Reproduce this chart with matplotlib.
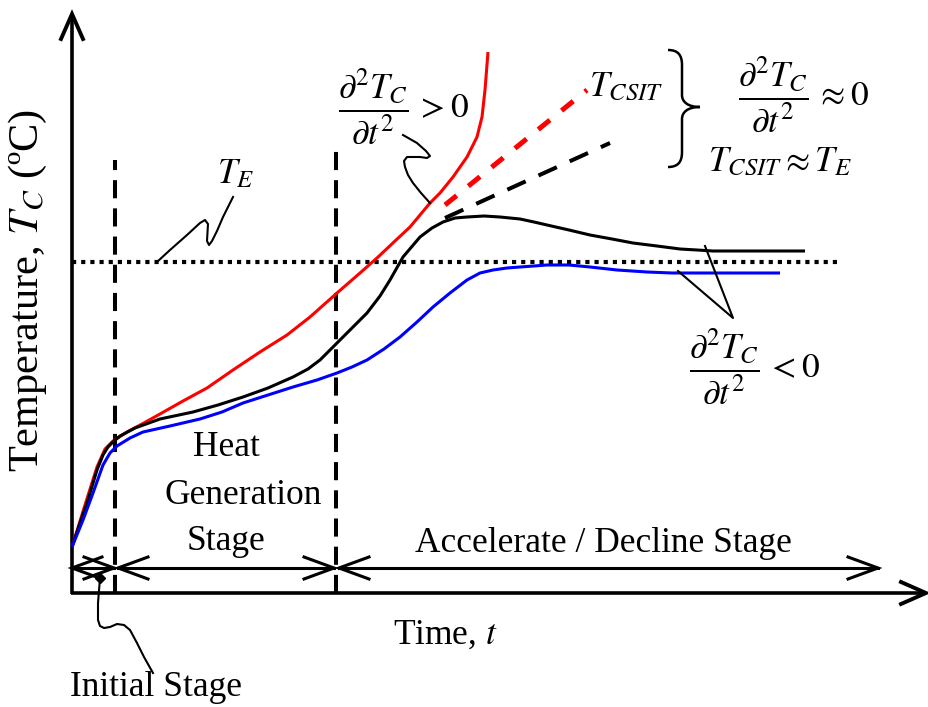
import numpy as np
import matplotlib
matplotlib.use("Agg")
import matplotlib.pyplot as plt
from matplotlib.path import Path
from matplotlib.patches import PathPatch

plt.rcParams['font.family'] = ['Liberation Serif', 'DejaVu Serif']
plt.rcParams['mathtext.fontset'] = 'stix'

# ---------------- CURVES (time, core temperature) ----------------
red_t = [0, 13, 25, 33, 41, 55, 70, 88, 111, 135, 161, 188, 215, 238, 265,
         288, 305, 323, 338, 358, 368, 381, 395, 405, 410, 413, 416]
red_T = [46, 88, 126, 144, 152, 161, 169, 179, 192, 205, 223, 241, 258, 276,
         300, 320, 335, 352, 366, 390, 400, 416, 436, 456, 476, 503, 541]

black_t = [0, 8, 15, 25, 31, 36, 42, 48, 63, 88, 121, 146, 171, 196, 221, 236,
           248, 265, 280, 295, 308, 318, 331, 348, 360, 371, 383, 395, 412,
           428, 448, 462, 475, 497, 518, 540, 561, 585, 608, 625, 641, 733]
black_T = [46, 70, 90, 123, 138, 146, 152, 157, 165, 174, 181, 188, 196, 205,
           216, 224, 233, 250, 265, 280, 297, 313, 336, 356, 365, 371, 375,
           376, 377, 376, 374, 371, 368, 363, 358, 354, 350, 347, 344, 343,
           342, 342]

blue_t = [0, 11, 21, 31, 38, 45, 58, 71, 98, 128, 150, 171, 196, 221, 245,
          265, 280, 295, 312, 328, 345, 361, 378, 395, 408, 421, 435, 448,
          462, 475, 497, 518, 545, 575, 600, 628, 708]
blue_T = [46, 73, 100, 128, 140, 147, 155, 161, 167, 174, 181, 190, 198, 206,
          213, 220, 226, 233, 244, 256, 271, 286, 300, 313, 320, 323, 325,
          326, 327, 328, 328, 326, 323, 321, 320, 320, 320]

# linear extensions of the black and red curves
csit_t = [373, 515]
csit_T = [388, 503]
ext_t = [373, 538]
ext_T = [375, 450]

T_E = 331
t_E_end = 765

# stage boundaries on the time axis
t_initial_end = 43
t_heat_end = 264
t_accel_end = 806

# ---------------- FIGURE ----------------
fig = plt.figure(figsize=(9.29, 7.07), dpi=100)
ax = fig.add_axes([0, 0, 1, 1])
ax.set_xlim(-72, 857)
ax.set_ylim(-114, 593)
ax.axis('off')

curve = dict(lw=2.2, solid_joinstyle='round', solid_capstyle='butt')


def vhead(tip, frm, length=30, half=11, lw=2.2):
    tip = np.asarray(tip, float)
    d = tip - np.asarray(frm, float)
    d /= np.hypot(*d)
    n = np.array([-d[1], d[0]])
    base = tip - length * d
    ax.plot([base[0] + half * n[0], tip[0], base[0] - half * n[0]],
            [base[1] + half * n[1], tip[1], base[1] - half * n[1]],
            color='black', lw=lw, solid_joinstyle='miter')


def double_arrow(x0, x1, y):
    ax.plot([x0, x1], [y, y], color='black', lw=2.2)
    vhead((x0, y), (x1, y))
    vhead((x1, y), (x0, y))


# axes with arrowheads
ax.plot([-1.2, 854], [0, 0], color='black', lw=2.6, solid_capstyle='butt')
ax.plot([0, 0], [-1.2, 579], color='black', lw=2.6, solid_capstyle='butt')
vhead((854, 0), (0, 0), length=25, half=11, lw=2.8)
vhead((0, 579), (0, 0), length=25, half=11, lw=2.8)

# stage dividers
ax.plot([t_initial_end, t_initial_end], [0, 433], color='black', lw=2.9,
        linestyle=(0, (4.5, 2.5)))
ax.plot([t_heat_end, t_heat_end], [0, 446], color='black', lw=2.9,
        linestyle=(0, (4.5, 2.5)))

# ambient temperature line
ax.plot([0, t_E_end], [T_E, T_E], color='black', lw=3.0,
        linestyle=(0, (1, 1.2)))

# temperature curves
ax.plot(red_t, red_T, color='#ff0000', **curve)
ax.plot(black_t, black_T, color='black', **curve)
ax.plot(blue_t, blue_T, color='#0000ff', **curve)
ax.plot(csit_t, csit_T, color='#ff0000', lw=3.6, linestyle=(0, (3, 3)))
ax.plot(ext_t, ext_T, color='black', lw=2.9, linestyle=(0, (5, 3.5)))

# stage arrows
stage_y = 25
double_arrow(0, t_initial_end - 1, stage_y)
double_arrow(t_initial_end + 3, t_heat_end - 2, stage_y)
ax.plot([t_heat_end + 3, t_accel_end], [stage_y, stage_y], color='black', lw=2.2)
vhead((t_heat_end + 3, stage_y), (t_accel_end, stage_y))
vhead((t_accel_end, stage_y), (t_heat_end, stage_y))

# leader lines
lead = dict(color='black', lw=1.5, solid_joinstyle='round')
ax.plot([85, 98, 115, 128, 133, 136, 135, 137, 140, 145, 151, 161],
        [331, 343, 358, 370, 373, 369, 352, 348, 352, 362, 376, 396], **lead)
ax.plot([331, 345, 354, 358, 355, 348, 335, 332, 333, 336, 341, 349, 358],
        [458, 450, 442, 437, 435, 436, 436, 432, 426, 418, 410, 400, 390], **lead)
ax.plot([633, 661, 606], [347, 275, 322], **lead)
ax.plot([28, 26, 26, 28, 32, 38, 45, 52, 58, 65, 72, 81],
        [15, -10, -27, -33, -35, -34, -31, -32, -37, -50, -64, -80], **lead)
ax.plot([28], [15], marker='D', color='black', markersize=5)

# curly brace
brace = Path([(596, 543), (606, 543), (610, 538), (610, 528),
              (610, 498), (610, 491), (616, 486), (628, 486),
              (616, 486), (610, 481), (610, 474),
              (610, 441), (610, 431), (606, 426), (596, 426)],
             [Path.MOVETO, Path.CURVE4, Path.CURVE4, Path.CURVE4,
              Path.LINETO, Path.CURVE4, Path.CURVE4, Path.CURVE4,
              Path.CURVE4, Path.CURVE4, Path.CURVE4,
              Path.LINETO, Path.CURVE4, Path.CURVE4, Path.CURVE4])
ax.add_patch(PathPatch(brace, fill=False, lw=1.8, color='black'))

# ---------------- TEXT ----------------
fs = 25.5
frac = r'\dfrac{\partial^2 T_C}{\partial t^2}'
ax.text(164, 418, r'$T_E$', fontsize=fs, ha='center', va='center')
ax.text(331, 486, '$' + frac + r'\, > 0$', fontsize=fs, ha='center', va='center')
ax.text(554, 505, r'$T_{CSIT}$', fontsize=fs, ha='center', va='center')
ax.text(731, 498, '$' + frac + r'\, \approx 0$', fontsize=fs, ha='center', va='center')
ax.text(708, 430, r'$T_{CSIT} \approx T_E$', fontsize=fs, ha='center', va='center')
ax.text(682, 226, '$' + frac + r'\, < 0$', fontsize=fs, ha='center', va='center')

ax.text(154, 146, 'Heat', fontsize=fs, ha='center', va='center')
ax.text(171, 98, 'Generation', fontsize=fs, ha='center', va='center')
ax.text(154, 52, 'Stage', fontsize=fs, ha='center', va='center')
ax.text(531, 50, 'Accelerate / Decline Stage', fontsize=fs, ha='center', va='center')
ax.text(373, -42, 'Time, $t$', fontsize=fs, ha='center', va='center')
ax.text(84, -95, 'Initial Stage', fontsize=fs, ha='center', va='center')
ax.text(-44, 303, 'Temperature, $T_C$ (ºC)', fontsize=30.5, ha='center',
        va='center', rotation=90)

fig.savefig('out.png', dpi=100)
